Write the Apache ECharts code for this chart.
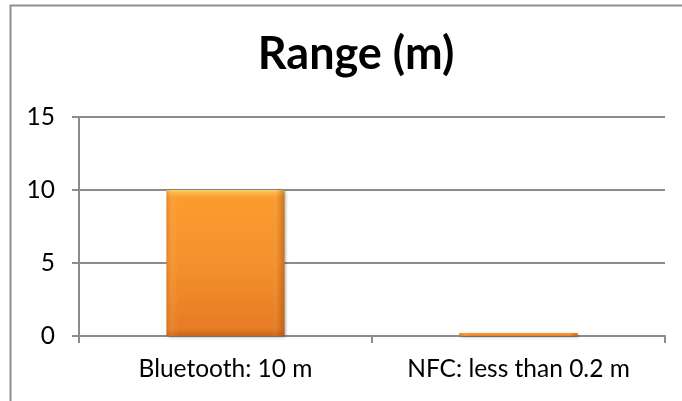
<!DOCTYPE html>
<html>
<head>
<meta charset="utf-8">
<script src="https://cdn.jsdelivr.net/npm/echarts@6/dist/echarts.min.js"></script>
<style>
  html, body { margin: 0; padding: 0; background: #fff; }
  #chart { width: 682px; height: 401px; }
</style>
</head>
<body>
<div id="chart"></div>
<script>
// Range of each wireless technology, in metres
const categories = ['Bluetooth: 10 m', 'NFC: less than 0.2 m'];
const rangeValues = [10, 0.2];
const yTicks = { min: 0, max: 15, interval: 5 };

const chart = echarts.init(document.getElementById('chart'), null, { renderer: 'canvas' });

const axisGray = '#8c8c8c';
const textFont = 'Lato, "Open Sans", sans-serif';

chart.setOption({
  animation: false,
  title: {
    text: 'Range (m)',
    left: 351,
    textAlign: 'center',
    top: 27,
    textStyle: { fontFamily: textFont, fontWeight: 'bold', fontSize: 45, color: '#000' }
  },
  graphic: [{
    type: 'polyline',
    shape: { points: [[10.5, 401], [10.5, 5.5], [682, 5.5]] },
    style: { stroke: '#8f8f8f', lineWidth: 2, fill: null },
    silent: true
  }],
  grid: { left: 79, right: 17, top: 117, bottom: 65 },
  xAxis: {
    type: 'category',
    data: categories,
    axisLine: { lineStyle: { color: axisGray, width: 2 } },
    axisTick: { show: true, length: 7, lineStyle: { color: axisGray, width: 2 } },
    axisLabel: { margin: 21, fontFamily: textFont, fontSize: 24.5, color: '#000' }
  },
  yAxis: {
    type: 'value',
    min: yTicks.min, max: yTicks.max, interval: yTicks.interval,
    axisLine: { show: true, lineStyle: { color: axisGray, width: 2 } },
    axisTick: { show: true, length: 7, lineStyle: { color: axisGray, width: 2 } },
    splitLine: { lineStyle: { color: axisGray, width: 2 } },
    axisLabel: { margin: 24, fontFamily: textFont, fontSize: 24.5, color: '#000' }
  },
  series: [
    {
      type: 'bar',
      data: rangeValues,
      barWidth: 118,
      itemStyle: {
        color: new echarts.graphic.LinearGradient(0, 0, 0, 1, [
          { offset: 0, color: '#fdd36a' },
          { offset: 0.02, color: '#fcb548' },
          { offset: 0.05, color: '#fb9c2e' },
          { offset: 0.5, color: '#f4912c' },
          { offset: 0.95, color: '#e67c24' },
          { offset: 1, color: '#c9641c' }
        ]),
        shadowColor: 'rgba(0,0,0,0.35)',
        shadowBlur: 3,
        shadowOffsetX: 1,
        shadowOffsetY: 1
      },
      z: 2
    },
    {
      // side bevel shading laid over the same bars
      type: 'bar',
      data: rangeValues,
      barWidth: 118,
      barGap: '-100%',
      silent: true,
      itemStyle: {
        color: new echarts.graphic.LinearGradient(0, 0, 1, 0, [
          { offset: 0, color: 'rgba(180,90,20,0.35)' },
          { offset: 0.05, color: 'rgba(255,200,120,0.10)' },
          { offset: 0.1, color: 'rgba(255,255,255,0)' },
          { offset: 0.9, color: 'rgba(255,255,255,0)' },
          { offset: 0.95, color: 'rgba(160,80,20,0.15)' },
          { offset: 1, color: 'rgba(140,70,15,0.45)' }
        ])
      },
      z: 3
    }
  ]
});
</script>
</body>
</html>
